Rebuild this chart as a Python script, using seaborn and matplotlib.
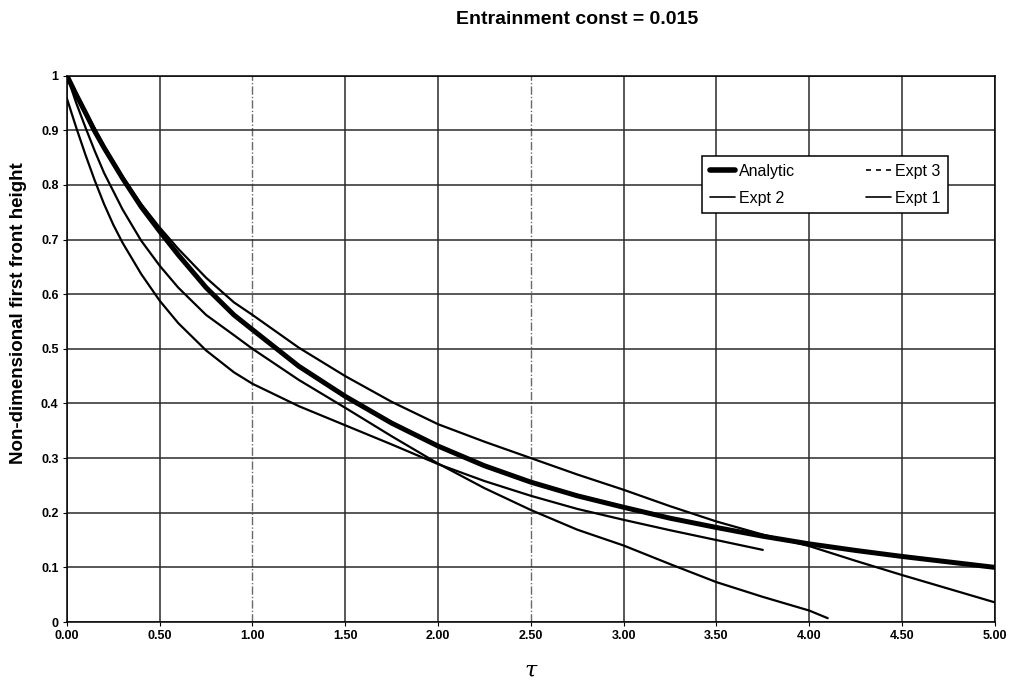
import matplotlib
matplotlib.use("Agg")
import matplotlib.pyplot as plt
from matplotlib.lines import Line2D
import seaborn as sns

# ---- data ----
tau_analytic = [0.0, 0.05, 0.1, 0.15, 0.2, 0.3, 0.4, 0.5, 0.6, 0.75, 0.9, 1.0, 1.25, 1.5, 1.75,
                2.0, 2.25, 2.5, 2.75, 3.0, 3.25, 3.5, 3.75, 4.0, 4.25, 4.5, 4.75, 5.0]
h_analytic = [1.0, 0.965, 0.932, 0.898, 0.868, 0.812, 0.76, 0.715, 0.672, 0.612, 0.562, 0.535, 0.468, 0.413, 0.364,
              0.322, 0.286, 0.256, 0.231, 0.21, 0.19, 0.173, 0.157, 0.143, 0.131, 0.12, 0.11, 0.10]

tau_expt3 = [0.0, 0.1, 0.2, 0.3, 0.4, 0.5, 0.6, 0.75, 0.9, 1.0, 1.25, 1.5, 1.75, 2.0, 2.25, 2.5,
             2.75, 3.0, 3.25, 3.5, 3.75, 4.0, 4.25, 4.5, 4.75, 5.0]
h_expt3 = [1.0, 0.935, 0.872, 0.815, 0.765, 0.722, 0.683, 0.63, 0.585, 0.562, 0.502, 0.45, 0.403, 0.362, 0.33, 0.30,
           0.27, 0.242, 0.212, 0.184, 0.16, 0.139, 0.112, 0.086, 0.061, 0.036]

tau_expt2 = [0.0, 0.05, 0.1, 0.15, 0.2, 0.3, 0.4, 0.5, 0.6, 0.75, 0.9, 1.0, 1.25, 1.5, 1.75, 2.0,
             2.25, 2.5, 2.75, 3.0, 3.25, 3.5, 3.75, 4.0, 4.1]
h_expt2 = [1.0, 0.95, 0.905, 0.862, 0.822, 0.755, 0.698, 0.652, 0.612, 0.562, 0.525, 0.50, 0.443, 0.392, 0.34, 0.29,
           0.245, 0.205, 0.169, 0.14, 0.106, 0.073, 0.046, 0.021, 0.007]

tau_expt1 = [0.0, 0.05, 0.1, 0.15, 0.2, 0.25, 0.3, 0.4, 0.5, 0.6, 0.75, 0.9, 1.0, 1.25, 1.5, 1.75,
             2.0, 2.25, 2.5, 2.75, 3.0, 3.25, 3.5, 3.75]
h_expt1 = [0.958, 0.905, 0.855, 0.808, 0.765, 0.727, 0.694, 0.637, 0.588, 0.547, 0.497, 0.457, 0.436, 0.395, 0.36, 0.325,
           0.289, 0.258, 0.231, 0.207, 0.187, 0.168, 0.15, 0.132]

x_ticks = [0.0, 0.5, 1.0, 1.5, 2.0, 2.5, 3.0, 3.5, 4.0, 4.5, 5.0]
x_ticklabels = ["0.00", "0.50", "1.00", "1.50", "2.00", "2.50", "3.00", "3.50", "4.00", "4.50", "5.00"]
y_ticks = [0, 0.1, 0.2, 0.3, 0.4, 0.5, 0.6, 0.7, 0.8, 0.9, 1.0]
y_ticklabels = ["0", "0.1", "0.2", "0.3", "0.4", "0.5", "0.6", "0.7", "0.8", "0.9", "1"]
faint_x_grid = [1.0, 2.5]

title = "Entrainment const = 0.015"
ylabel = "Non-dimensional first front height"
xlabel = r"$\tau$"
legend_labels = ["Analytic", "Expt 2", "Expt 3", "Expt 1"]

# ---- styling ----
sns.set_style("white")
plt.rcParams["font.family"] = ["Liberation Sans", "DejaVu Sans"]
plt.rcParams["mathtext.fontset"] = "dejavuserif"
plt.rcParams["text.color"] = "black"
plt.rcParams["axes.labelcolor"] = "black"
plt.rcParams["xtick.color"] = "black"
plt.rcParams["ytick.color"] = "black"

fig = plt.figure(figsize=(10.14, 6.83), dpi=100)
ax = fig.add_axes([0.066, 0.0893, 0.915, 0.8])

# grid
for xv in x_ticks:
    if xv in faint_x_grid:
        ax.axvline(xv, color="#6a6a6a", lw=1.0, ls=(0, (6, 1.5, 1, 1.5)), zorder=1)
    else:
        ax.axvline(xv, color="#2a2a2a", lw=1.1, zorder=1)
for yv in y_ticks:
    ax.axhline(yv, color="#2a2a2a", lw=1.1, zorder=1)

sns.lineplot(x=tau_expt1, y=h_expt1, ax=ax, color="black", lw=1.6, estimator=None, zorder=3)
sns.lineplot(x=tau_expt2, y=h_expt2, ax=ax, color="black", lw=1.6, estimator=None, zorder=3)
sns.lineplot(x=tau_expt3, y=h_expt3, ax=ax, color="black", lw=1.6, estimator=None, zorder=3)
sns.lineplot(x=tau_analytic, y=h_analytic, ax=ax, color="black", lw=3.6, estimator=None, zorder=4)

ax.set_xlim(0, 5)
ax.set_ylim(0, 1)
ax.set_xticks(x_ticks)
ax.set_xticklabels(x_ticklabels, fontsize=9, fontweight="bold")
ax.set_yticks(y_ticks)
ax.set_yticklabels(y_ticklabels, fontsize=9, fontweight="bold")
ax.tick_params(axis="both", direction="out", length=3, width=0.8, color="black", pad=3, bottom=True, left=True)

for s in ax.spines.values():
    s.set_color("black")
    s.set_linewidth(1.1)

ax.set_ylabel(ylabel, fontsize=13.5, fontweight="bold")
ax.yaxis.set_label_coords(-0.043, 0.566)
ax.set_xlabel(xlabel, fontsize=16, labelpad=13)
fig.suptitle(title, x=0.569, y=0.984, va="top", fontsize=14, fontweight="bold")

handles = [
    Line2D([], [], color="black", lw=4),
    Line2D([], [], color="black", lw=1.2),
    Line2D([], [], color="black", lw=1.2, linestyle=(0, (3, 3))),
    Line2D([], [], color="black", lw=1.2),
]
leg = ax.legend(handles, legend_labels, ncol=2, loc="upper left", bbox_to_anchor=(0.685, 0.852),
                frameon=True, fancybox=False, edgecolor="black", framealpha=1,
                fontsize=11.5, handlelength=1.6, handletextpad=0.25, columnspacing=4.4,
                borderpad=0.45, labelspacing=0.75, borderaxespad=0)
leg.get_frame().set_linewidth(1.1)
leg.set_zorder(10)

fig.savefig("out.png", dpi=100)
